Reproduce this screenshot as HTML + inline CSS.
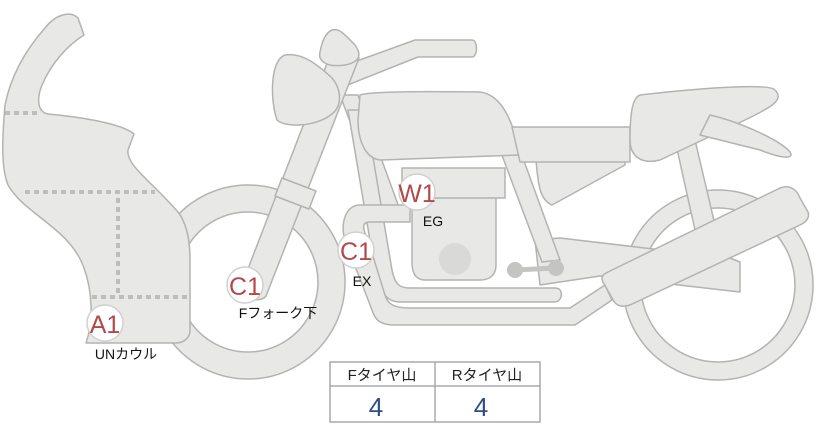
<!DOCTYPE html>
<html><head><meta charset="utf-8"><style>
html,body{margin:0;padding:0;background:#fff;width:822px;height:425px;overflow:hidden}
svg{display:block}
text{font-family:"Liberation Sans","Noto Sans CJK JP",sans-serif}
</style></head><body>
<svg width="822" height="425" viewBox="0 0 822 425" xmlns="http://www.w3.org/2000/svg">
<g fill="#e8e8e6" stroke="#b3b3b1" stroke-width="1.5" stroke-linejoin="round">
<!-- rear wheel -->
<path fill-rule="evenodd" d="M718,190 a95,95 0 1,0 0.1,0 Z M718,208 a77,77 0 1,1 -0.1,0 Z"/>
<!-- front wheel -->
<path fill-rule="evenodd" d="M248,185 a97,97 0 1,0 0.1,0 Z M248,212 a70,70 0 1,1 -0.1,0 Z"/>
<!-- rear shock / swingarm -->
<path d="M675,140 L695,140 L715,225 L695,230 Z"/>
<path d="M535,240 L560,238 L730,258 L740,262 L740,292 L600,276 L540,285 Z"/>
<!-- frame tubes -->
<path d="M340,95 L358,95 L400,210 L385,215 Z"/>
<path d="M500,150 L520,150 L560,260 L542,262 Z"/>
<path d="M348,110 L365,110 L392,270 C395,285 400,288 410,288 L555,288 C565,288 562,302 555,302 L400,302 C385,302 380,290 375,270 Z"/>
<!-- tank -->
<path d="M360,95 C375,90 470,92 480,92 C505,95 515,130 520,155 L380,160 C365,158 358,140 358,120 Z"/>
<!-- side panel -->
<path d="M536,160 L625,160 L625,165 L552,205 C540,200 538,185 536,160 Z"/>
<path d="M512,127 L630,127 L630,162 L520,162 Z"/>
<!-- seat -->
<path d="M640,95 C700,88 770,83 775,90 C785,100 770,108 745,120 L660,160 C640,165 630,155 630,140 C630,115 632,98 640,95 Z"/>
<path d="M710,115 C740,122 780,140 790,152 C795,160 780,158 760,150 L700,135 Z"/>
<!-- engine -->
<path d="M412,195 L496,195 L496,265 C496,275 490,280 480,280 L425,280 C415,280 412,272 412,262 Z"/>
<path d="M402,168 L505,168 L505,198 L402,198 Z"/>
<!-- exhaust -->
<path d="M360,205 L410,205 L410,222 L370,222 C362,222 362,228 368,240 L385,295 C388,305 395,308 410,308 L570,308 L605,285 L612,300 L575,325 L395,325 C380,325 375,320 372,310 L345,240 C340,225 345,205 360,205 Z"/>
<!-- muffler -->
<path d="M606,273 L780,188 C790,184 797,190 800,198 L808,212 C810,218 806,222 800,225 L630,305 C620,308 615,305 612,298 L603,282 C601,278 602,275 606,273 Z"/>
<!-- handlebar -->
<path d="M332,70 L415,40 L472,40 C478,40 478,57 472,57 L418,57 L340,88 Z"/>
<!-- fork -->
<path d="M333,48 L359,58 L266,296 C260,304 240,298 241,287 Z"/>
<path d="M282,178 L316,191 L309,209 L275,196 Z"/>
<!-- headlight -->
<path d="M285,55 C302,52 318,65 332,78 C342,90 342,106 332,114 C316,127 285,128 277,120 C270,100 270,60 285,55 Z"/>
<path d="M332,30 C340,28 345,35 355,45 C362,55 360,62 345,65 C325,68 318,60 320,52 C322,42 325,33 332,30 Z"/>
<!-- fairing -->
<path d="M45,28 C55,15 70,10 78,18 L84,35 C68,45 52,62 42,85 C36,100 38,112 48,114 C70,116 120,122 134,134 L128,150 C126,165 150,180 178,212 C188,225 190,245 190,260 L190,330 C190,338 184,343 175,343 L86,343 C94,320 92,290 84,268 C70,228 25,215 8,185 C0,165 3,130 5,105 C12,70 30,45 45,28 Z"/>
</g>
<circle cx="455" cy="259" r="16" fill="#d9d9d7"/>
<g stroke="#c4c4c2" stroke-width="5" stroke-linecap="round"><line x1="515" y1="270" x2="555" y2="268"/></g>
<circle cx="515" cy="270" r="8" fill="#c4c4c2"/><circle cx="556" cy="268" r="8" fill="#c4c4c2"/>
<g stroke="#bdbdbb" stroke-width="4" stroke-dasharray="5,4" fill="none">
<line x1="5" y1="113" x2="40" y2="113"/>
<line x1="25" y1="192" x2="155" y2="192"/>
<line x1="118" y1="198" x2="118" y2="295"/>
<line x1="92" y1="297" x2="190" y2="297"/>
</g>
<!-- markers -->
<g fill="#fff" stroke="#d0d0d0" stroke-width="1.5">
<circle cx="105" cy="323" r="18"/><circle cx="245" cy="285" r="18"/>
<circle cx="356" cy="250" r="18"/><circle cx="417" cy="192" r="18"/>
</g>
<g fill="#b24a48" font-size="25" text-anchor="middle">
<text x="105" y="333">A1</text><text x="245" y="295">C1</text>
<text x="356" y="260">C1</text><text x="417" y="202">W1</text>
</g>
<g fill="#111" font-size="14" text-anchor="middle">
<text x="126" y="359">UNカウル</text><text x="278" y="318">Fフォーク下</text>
<text x="362" y="286">EX</text><text x="433" y="226">EG</text>
</g>
<!-- table -->
<g fill="#fff" stroke="#a9a9b0" stroke-width="1.5">
<rect x="330" y="362" width="210" height="60"/>
<line x1="330" y1="386" x2="540" y2="386"/>
<line x1="435" y1="362" x2="435" y2="422"/>
</g>
<g font-size="15" fill="#222" text-anchor="middle"><text x="382" y="380">Fタイヤ山</text><text x="487" y="380">Rタイヤ山</text></g>
<g font-size="26" fill="#2f4d8a" text-anchor="middle"><text x="376" y="416">4</text><text x="481" y="416">4</text></g>
</svg>
</body></html>
